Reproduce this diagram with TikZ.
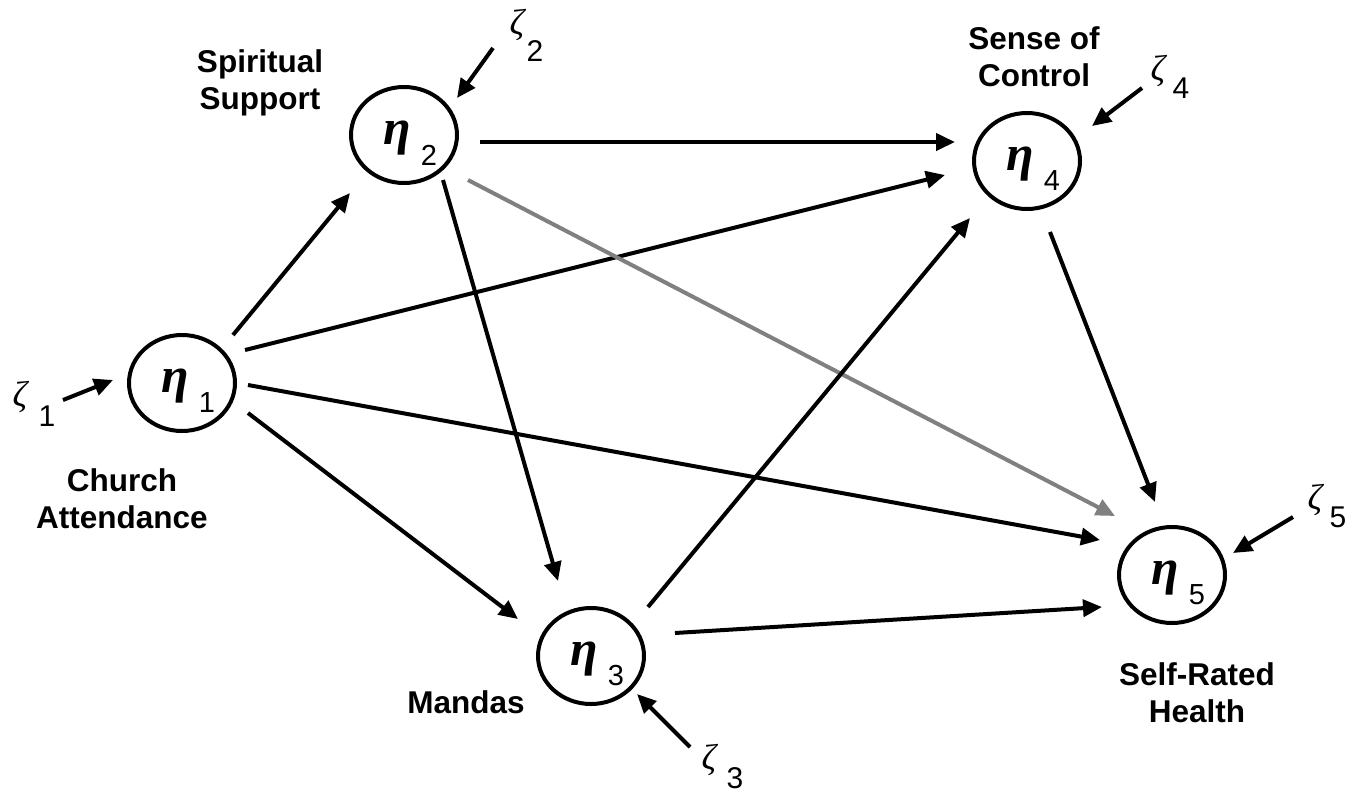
\documentclass[tikz,border=0pt]{standalone}
\usepackage{fontspec}
\setmainfont{Liberation Sans}
\newfontfamily\grk{Liberation Serif}
\usetikzlibrary{shapes.geometric,arrows.meta,calc}
\begin{document}
\begin{tikzpicture}[x=1pt,y=-1pt,
  lat/.style={ellipse,draw,line width=4pt,minimum width=106pt,minimum height=96pt,inner sep=0pt},
  etaglyph/.style={font=\grk\bfseries\itshape\fontsize{50}{50}\selectfont,inner sep=0pt},
  sub/.style={font=\fontsize{29}{29}\selectfont,inner sep=0pt},
  zsub/.style={font=\fontsize{30}{30}\selectfont,inner sep=0pt},
  zetaglyph/.style={font=\grk\itshape\fontsize{36}{36}\selectfont,inner sep=0pt},
  lbl/.style={font=\bfseries\fontsize{31.5}{37}\selectfont,align=center,inner sep=0pt},
  conn/.style={line width=4pt,-{Triangle[length=19pt,width=17pt]}},
  grayconn/.style={conn,draw={rgb,255:red,128;green,128;blue,128}},
]
\useasboundingbox[fill=white] (0,0) rectangle (1365,796);

% latent variables
\node[lat] (e1) at (182,383) {};
\node[lat] (e2) at (404,135) {};
\node[lat] (e3) at (591,656) {};
\node[lat] (e4) at (1027,161) {};
\node[lat] (e5) at (1172,575) {};

\foreach \n/\d in {e1/1,e2/2,e3/3,e4/4,e5/5}{
  \node[etaglyph] (\n g) at ($(\n)+(-7,3)$) {η};
  \node[sub] (\n s) at ($(\n)+(25,20)$) {\d};
}

% labels
\node[lbl] (l1) at (122,499) {Church\\Attendance};
\node[lbl] (l2) at (260,83) {Spiritual\\Support};
\node[lbl] (l3) at (466,702) {Mandas};
\node[lbl] (l4) at (1034,57) {Sense of\\Control};
\node[lbl] (l5) at (1197,693) {Self-Rated\\Health};

% disturbances
\node[zetaglyph] (z1) at (20,397) {ζ};
\node[zsub] (z1s) at (47,416) {1};
\node[zetaglyph] (z2) at (517,25) {ζ};
\node[zsub] (z2s) at (535,51) {2};
\node[zetaglyph] (z3) at (709,760) {ζ};
\node[zsub] (z3s) at (735,778) {3};
\node[zetaglyph] (z4) at (1158,71) {ζ};
\node[zsub] (z4s) at (1181,88) {4};
\node[zetaglyph] (z5) at (1315,500) {ζ};
\node[zsub] (z5s) at (1338,517) {5};

\coordinate (d1) at (63,400);
\coordinate (d2) at (493,48);
\coordinate (d3) at (690,747);
\coordinate (d4) at (1142,88);
\coordinate (d5) at (1293,517);

\draw[conn] (d1) -- ($(e1)+(-69,-3)$);
\draw[conn] (d2) -- ($(e2)+(53,-37)$);
\draw[conn] (d3) -- ($(e3)+(46,38)$);
\draw[conn] (d4) -- ($(e4)+(65,-35)$);
\draw[conn] (d5) -- ($(e5)+(61,-22)$);

% paths
\draw[conn] ($(e1)+(51,-48)$) -- ($(e2)+(-54,58)$);
\draw[conn] ($(e1)+(63,-33)$) -- ($(e4)+(-82,14)$);
\draw[conn] ($(e1)+(66,2)$) -- ($(e5)+(-72,-35)$);
\draw[conn] ($(e1)+(66,30)$) -- ($(e3)+(-73,-37)$);
\draw[conn] ($(e2)+(76,7)$) -- ($(e4)+(-72,-19)$);
\draw[conn] ($(e2)+(39,45)$) -- ($(e3)+(-33,-75)$);
\draw[grayconn] ($(e2)+(64,45)$) -- ($(e5)+(-57,-59)$);
\draw[conn] ($(e3)+(57,-49)$) -- ($(e4)+(-57,57)$);
\draw[conn] ($(e3)+(84,-23)$) -- ($(e5)+(-70,32)$);
\draw[conn] ($(e4)+(23,71)$) -- ($(e5)+(-17,-73)$);
\end{tikzpicture}
\end{document}
